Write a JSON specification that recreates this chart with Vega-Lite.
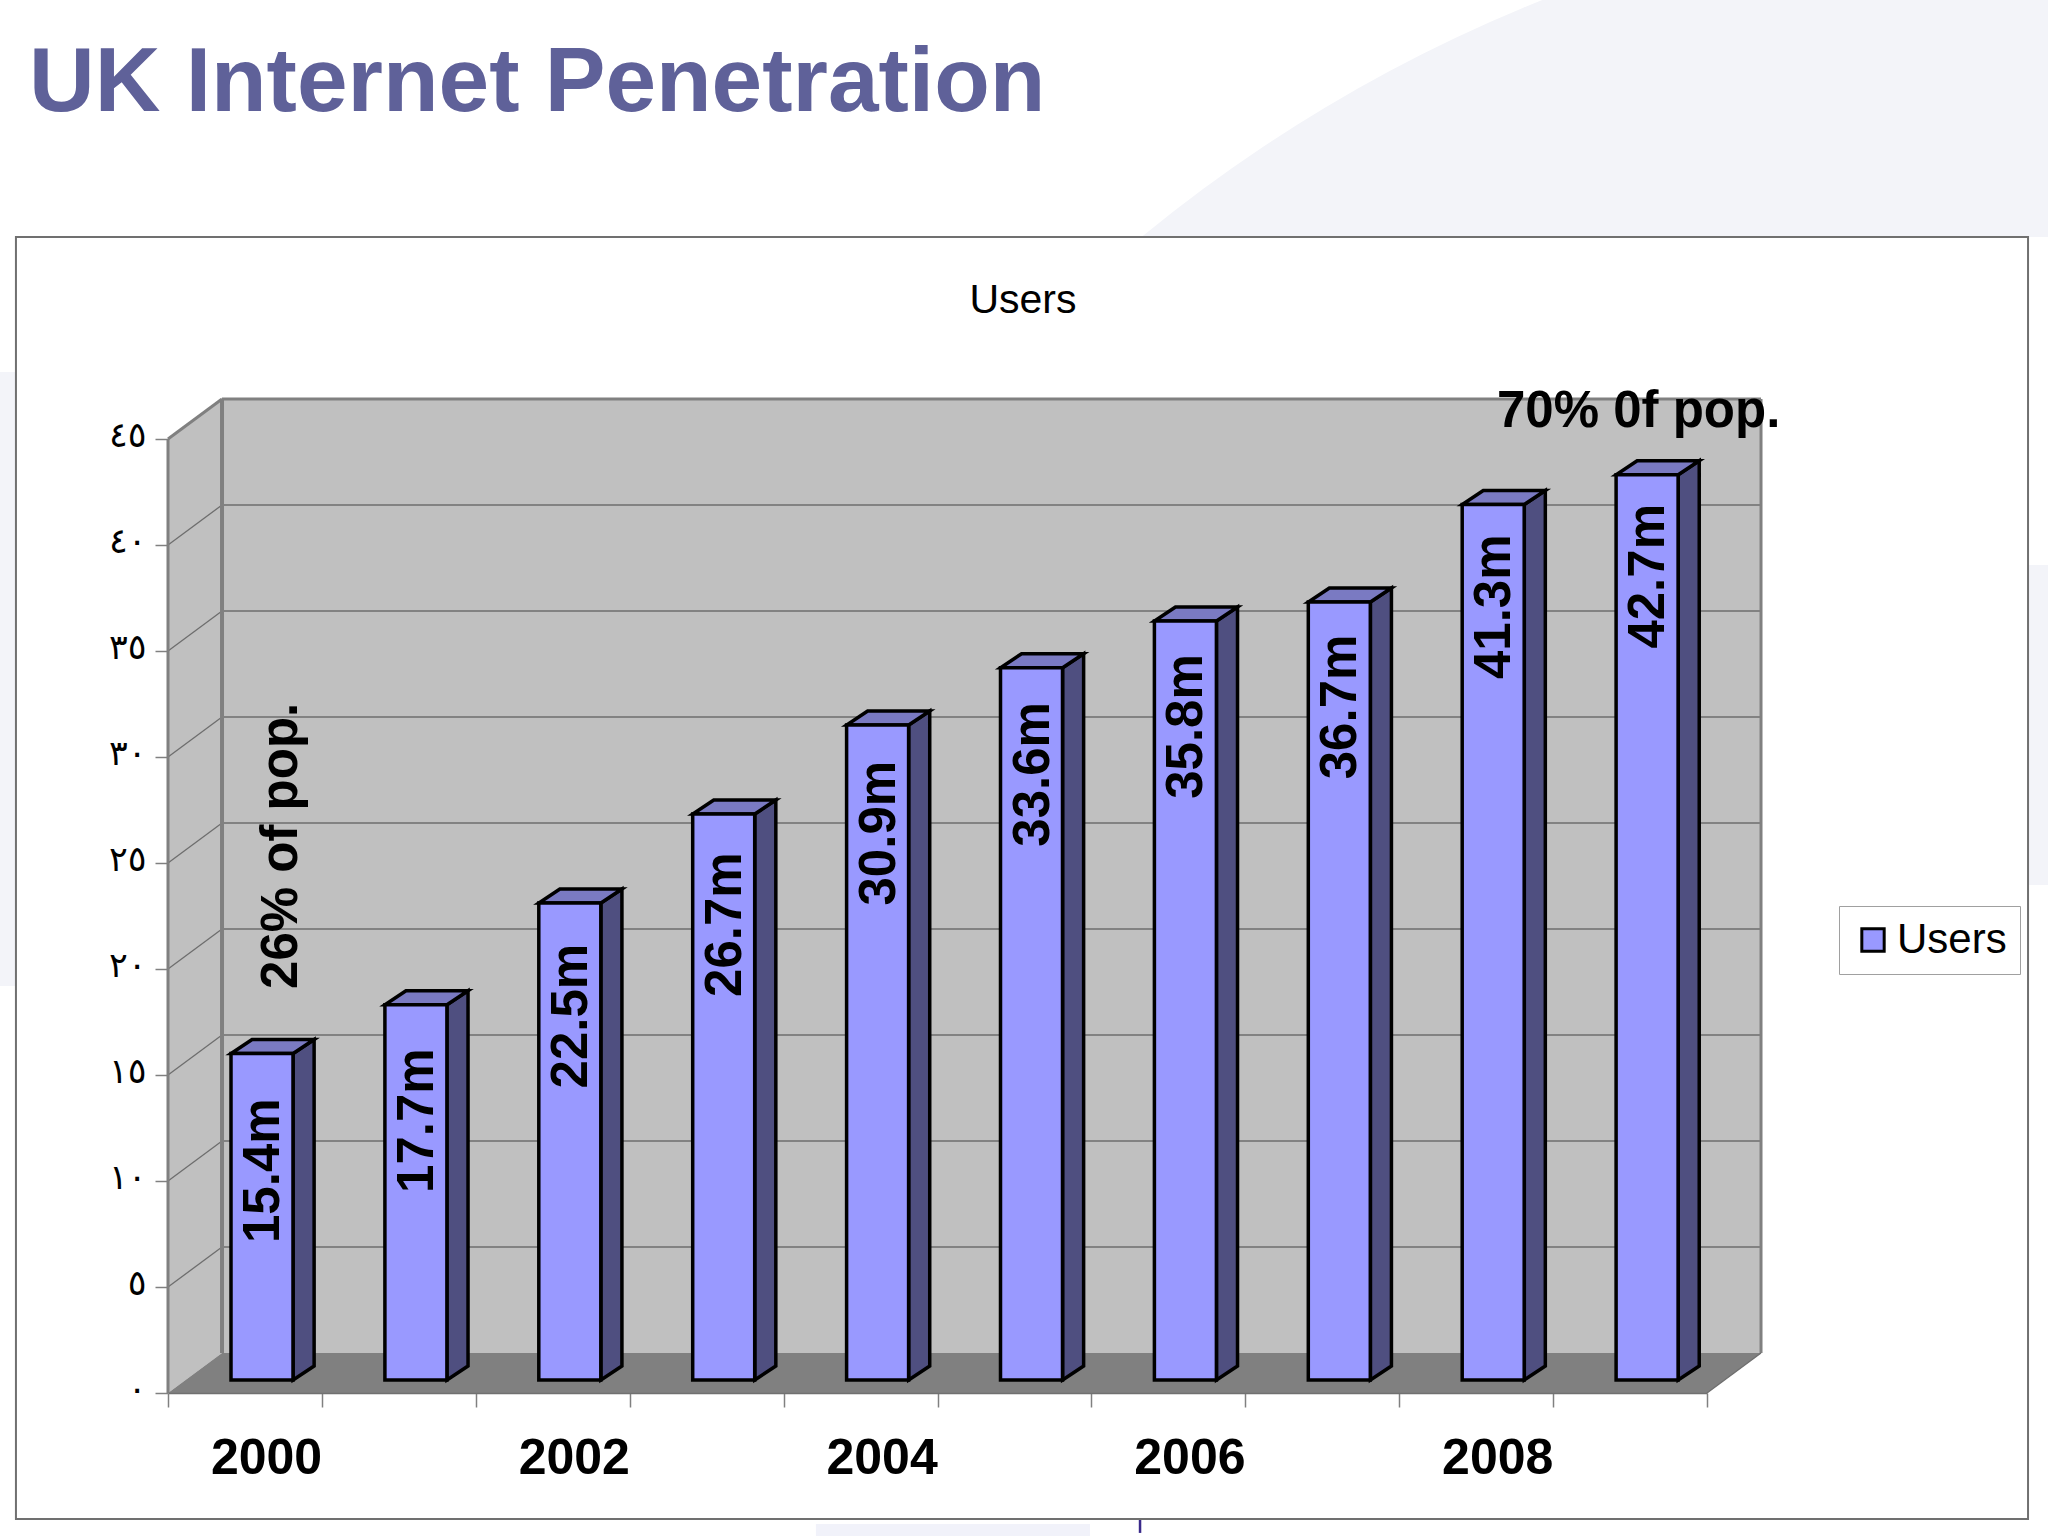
{
  "$schema": "https://vega.github.io/schema/vega-lite/v6.json",
  "background": "white",
  "autosize": {"type": "none"},
  "padding": {"left": 168, "top": 439, "right": 341, "bottom": 143},
  "width": 1539,
  "height": 954,
  "config": {"font": "Liberation Sans", "view": {"stroke": null}},
  "data": {"values": [{}]},
  "layer": [
    {
      "mark": {"type": "point", "filled": true, "size": 9084196, "color": "#f3f4f9", "opacity": 1},
      "encoding": {
        "x": {
          "datum": 2012.554,
          "type": "quantitative",
          "scale": {"domain": [2000, 2010], "nice": false, "zero": false},
          "axis": {
            "values": [2000, 2001, 2002, 2003, 2004, 2005, 2006, 2007, 2008, 2009, 2010],
            "title": null,
            "grid": false,
            "zindex": 1,
            "labelExpr": "datum.value % 2 == 0 && datum.value < 2010 ? format(datum.value, 'd') : ''",
            "labelFontSize": 50,
            "labelFontWeight": "bold",
            "labelColor": "black",
            "labelOffset": 98,
            "labelPadding": 26,
            "labelOverlap": false,
            "labelBound": false,
            "labelFlush": false,
            "tickColor": "#808080",
            "tickSize": 14,
            "tickWidth": 1.5,
            "domainColor": "#707070",
            "domainWidth": 1.5
          }
        },
        "y": {
          "datum": -0.33,
          "type": "quantitative",
          "scale": {"domain": [0, 45], "nice": false, "zero": false},
          "axis": {
            "values": [0, 5, 10, 15, 20, 25, 30, 35, 40, 45],
            "title": null,
            "grid": false,
            "zindex": 1,
            "domain": false,
            "labelExpr": "['٠','٥','١٠','١٥','٢٠','٢٥','٣٠','٣٥','٤٠','٤٥'][datum.value / 5]",
            "labelFont": "DejaVu Sans",
            "labelFontSize": 35,
            "labelColor": "black",
            "labelPadding": 9,
            "labelOffset": -4,
            "tickColor": "#808080",
            "tickSize": 13,
            "tickWidth": 1.5
          }
        }
      }
    },
    {
      "mark": {"type": "rect", "color": "#f3f4f9"},
      "encoding": {
        "x": {"datum": 1998.908, "type": "quantitative"},
        "x2": {"datum": 1999.012},
        "y": {"datum": 48.16, "type": "quantitative"},
        "y2": {"datum": 19.2}
      }
    },
    {
      "mark": {"type": "rect", "color": "white"},
      "encoding": {
        "x": {"datum": 2012.086, "type": "quantitative"},
        "x2": {"datum": 2012.3},
        "y": {"datum": 54.53, "type": "quantitative"},
        "y2": {"datum": 39.06}
      }
    },
    {
      "mark": {"type": "rect", "color": "white"},
      "encoding": {
        "x": {"datum": 2012.086, "type": "quantitative"},
        "x2": {"datum": 2012.3},
        "y": {"datum": 23.96, "type": "quantitative"},
        "y2": {"datum": -6.8}
      }
    },
    {
      "mark": {"type": "rect", "color": "white"},
      "encoding": {
        "x": {"datum": 1998.9, "type": "quantitative"},
        "x2": {"datum": 2012.3},
        "y": {"datum": -5.9, "type": "quantitative"},
        "y2": {"datum": -6.8}
      }
    },
    {
      "mark": {"type": "rect", "color": "#f1f2fa"},
      "encoding": {
        "x": {"datum": 2004.21, "type": "quantitative"},
        "x2": {"datum": 2005.991},
        "y": {"datum": -6.18, "type": "quantitative"},
        "y2": {"datum": -6.8}
      }
    },
    {
      "mark": {"type": "rule", "color": "#3a2a8a", "strokeWidth": 2.5},
      "encoding": {
        "x": {"datum": 2006.316, "type": "quantitative"},
        "y": {"datum": -5.94, "type": "quantitative"},
        "y2": {"datum": -6.6}
      }
    },
    {
      "mark": {"type": "rect", "fill": "white", "stroke": "#707070", "strokeWidth": 2},
      "encoding": {
        "x": {"datum": 1999.012, "type": "quantitative"},
        "x2": {"datum": 2012.086},
        "y": {"datum": 54.53, "type": "quantitative"},
        "y2": {"datum": -5.94}
      }
    },
    {
      "mark": {"type": "text", "text": "UK Internet Penetration", "fontSize": 91, "fontWeight": "bold", "align": "left", "baseline": "alphabetic", "color": "#5f6199"},
      "encoding": {
        "x": {"datum": 1999.097, "type": "quantitative"},
        "y": {"datum": 60.47, "type": "quantitative"}
      }
    },
    {
      "mark": {"type": "text", "text": "Users", "fontSize": 41, "align": "center", "baseline": "alphabetic", "color": "black"},
      "encoding": {
        "x": {"datum": 2005.555, "type": "quantitative"},
        "y": {"datum": 50.95, "type": "quantitative"}
      }
    },
    {
      "mark": {"type": "rect", "color": "#c0c0c0"},
      "encoding": {
        "x": {"datum": 2000.351, "type": "quantitative"},
        "x2": {"datum": 2010.351},
        "y": {"datum": 1.887, "type": "quantitative"},
        "y2": {"datum": 46.887}
      }
    },
    {
      "data": {"values": [{"edge": "near"}, {"edge": "far"}]},
      "transform": [
        {"calculate": "datum.edge == 'near' ? 2000 : 2000.351", "as": "wall_x"},
        {"calculate": "datum.edge == 'near' ? 0 : 1.887", "as": "wall_low"},
        {"calculate": "datum.wall_low + 45", "as": "wall_high"}
      ],
      "mark": {"type": "area", "color": "#c0c0c0", "orient": "vertical", "opacity": 1},
      "encoding": {
        "x": {"field": "wall_x", "type": "quantitative"},
        "y": {"field": "wall_low", "type": "quantitative"},
        "y2": {"field": "wall_high"}
      }
    },
    {
      "data": {"values": [{"edge": "near"}, {"edge": "far"}]},
      "transform": [
        {"calculate": "datum.edge == 'near' ? 0 : 1.887", "as": "floor_y"},
        {"calculate": "datum.edge == 'near' ? 2000 : 2000.351", "as": "floor_left"},
        {"calculate": "datum.floor_left + 10", "as": "floor_right"}
      ],
      "mark": {"type": "area", "color": "#808080", "orient": "horizontal", "opacity": 1},
      "encoding": {
        "y": {"field": "floor_y", "type": "quantitative"},
        "x": {"field": "floor_left", "type": "quantitative"},
        "x2": {"field": "floor_right"}
      }
    },
    {
      "data": {"values": [{"tick": 5}, {"tick": 10}, {"tick": 15}, {"tick": 20}, {"tick": 25}, {"tick": 30}, {"tick": 35}, {"tick": 40}]},
      "layer": [
        {
          "mark": {"type": "rule", "color": "#6e6e6e", "strokeWidth": 1.3, "yOffset": -40, "y2Offset": -40},
          "encoding": {
            "x": {"datum": 2000.351, "type": "quantitative"},
            "x2": {"datum": 2010.351},
            "y": {"field": "tick", "type": "quantitative"},
            "y2": {"field": "tick"}
          }
        },
        {
          "mark": {"type": "rule", "color": "#6e6e6e", "strokeWidth": 1.3, "y2Offset": -40},
          "encoding": {
            "x": {"datum": 2000, "type": "quantitative"},
            "x2": {"datum": 2000.351},
            "y": {"field": "tick", "type": "quantitative"},
            "y2": {"field": "tick"}
          }
        }
      ]
    },
    {
      "mark": {"type": "rule", "color": "#808080", "strokeWidth": 3},
      "encoding": {
        "x": {"datum": 2000, "type": "quantitative"},
        "y": {"datum": 0, "type": "quantitative"},
        "y2": {"datum": 45}
      }
    },
    {
      "mark": {"type": "rule", "color": "#808080", "strokeWidth": 4},
      "encoding": {
        "x": {"datum": 2000.351, "type": "quantitative"},
        "y": {"datum": 1.887, "type": "quantitative"},
        "y2": {"datum": 46.887}
      }
    },
    {
      "mark": {"type": "rule", "color": "#808080", "strokeWidth": 3},
      "encoding": {
        "x": {"datum": 2010.351, "type": "quantitative"},
        "y": {"datum": 1.887, "type": "quantitative"},
        "y2": {"datum": 46.887}
      }
    },
    {
      "mark": {"type": "rule", "color": "#808080", "strokeWidth": 3},
      "encoding": {
        "x": {"datum": 2000.351, "type": "quantitative"},
        "x2": {"datum": 2010.351},
        "y": {"datum": 46.887, "type": "quantitative"}
      }
    },
    {
      "mark": {"type": "rule", "color": "#808080", "strokeWidth": 3},
      "encoding": {
        "x": {"datum": 2000, "type": "quantitative"},
        "x2": {"datum": 2000.351},
        "y": {"datum": 45, "type": "quantitative"},
        "y2": {"datum": 46.887}
      }
    },
    {
      "mark": {"type": "rule", "color": "#6e6e6e", "strokeWidth": 1.3},
      "encoding": {
        "x": {"datum": 2010, "type": "quantitative"},
        "x2": {"datum": 2010.351},
        "y": {"datum": 0, "type": "quantitative"},
        "y2": {"datum": 1.887}
      }
    },
    {
      "data": {
        "values": [
          {"year": 2000, "users": 15.4, "label": "15.4m"},
          {"year": 2001, "users": 17.7, "label": "17.7m"},
          {"year": 2002, "users": 22.5, "label": "22.5m"},
          {"year": 2003, "users": 26.7, "label": "26.7m"},
          {"year": 2004, "users": 30.9, "label": "30.9m"},
          {"year": 2005, "users": 33.6, "label": "33.6m"},
          {"year": 2006, "users": 35.8, "label": "35.8m"},
          {"year": 2007, "users": 36.7, "label": "36.7m"},
          {"year": 2008, "users": 41.3, "label": "41.3m"},
          {"year": 2009, "users": 42.7, "label": "42.7m"}
        ]
      },
      "layer": [
        {
          "transform": [
            {"fold": ["near", "far"], "as": ["edge", "unused"]},
            {"calculate": "datum.year + (datum.edge == 'near' ? 0.813 : 0.9495)", "as": "side_x"},
            {"calculate": "datum.users + (datum.edge == 'near' ? 0.613 : 1.273)", "as": "side_top"},
            {"calculate": "datum.edge == 'near' ? 0.613 : 1.273", "as": "side_bottom"}
          ],
          "mark": {"type": "area", "orient": "vertical", "color": "#4f4f80", "opacity": 1, "stroke": "black", "strokeWidth": 3.5, "strokeJoin": "miter"},
          "encoding": {
            "x": {"field": "side_x", "type": "quantitative"},
            "y": {"field": "side_top", "type": "quantitative"},
            "y2": {"field": "side_bottom"},
            "detail": {"field": "year"}
          }
        },
        {
          "transform": [
            {"fold": ["near", "far"], "as": ["edge", "unused"]},
            {"calculate": "datum.users + (datum.edge == 'near' ? 0.613 : 1.273)", "as": "top_y"},
            {"calculate": "datum.year + (datum.edge == 'near' ? 0.41 : 0.5465)", "as": "top_left"},
            {"calculate": "datum.top_left + 0.403", "as": "top_right"}
          ],
          "mark": {"type": "area", "orient": "horizontal", "color": "#7a7ac2", "opacity": 1, "stroke": "black", "strokeWidth": 3.5, "strokeJoin": "miter"},
          "encoding": {
            "y": {"field": "top_y", "type": "quantitative"},
            "x": {"field": "top_left", "type": "quantitative"},
            "x2": {"field": "top_right"},
            "detail": {"field": "year"}
          }
        },
        {
          "mark": {"type": "rect", "stroke": "black", "strokeWidth": 3.5, "opacity": 1, "xOffset": 63, "x2Offset": 125, "yOffset": -13, "y2Offset": -13},
          "encoding": {
            "x": {"field": "year", "type": "quantitative"},
            "x2": {"field": "year"},
            "y": {"field": "users", "type": "quantitative"},
            "y2": {"datum": 0},
            "color": {
              "datum": "Users",
              "scale": {"domain": ["Users"], "range": ["#9999ff"]},
              "legend": {
                "title": null,
                "orient": "none",
                "legendX": 1671,
                "legendY": 467,
                "fillColor": "white",
                "strokeColor": "#a0a0a0",
                "padding": 13,
                "symbolType": "square",
                "symbolSize": 500,
                "symbolStrokeColor": "black",
                "symbolStrokeWidth": 3,
                "symbolOpacity": 1,
                "labelFontSize": 42,
                "labelColor": "black",
                "labelOffset": 3
              }
            }
          }
        },
        {
          "transform": [{"calculate": "datum.users * 1.027 - 8.74", "as": "label_y"}],
          "mark": {"type": "text", "angle": 270, "align": "left", "baseline": "alphabetic", "fontSize": 51, "fontWeight": "bold", "color": "black", "xOffset": 111},
          "encoding": {
            "x": {"field": "year", "type": "quantitative"},
            "y": {"field": "label_y", "type": "quantitative"},
            "text": {"field": "label"}
          }
        }
      ]
    },
    {
      "mark": {"type": "text", "text": "70% 0f pop.", "align": "left", "baseline": "alphabetic", "fontSize": 51, "fontWeight": "bold", "color": "black"},
      "encoding": {
        "x": {"datum": 2008.635, "type": "quantitative"},
        "y": {"datum": 45.566, "type": "quantitative"}
      }
    },
    {
      "mark": {"type": "text", "text": "26% of pop.", "angle": 270, "align": "left", "baseline": "alphabetic", "fontSize": 51, "fontWeight": "bold", "color": "black"},
      "encoding": {
        "x": {"datum": 2000.838, "type": "quantitative"},
        "y": {"datum": 19.06, "type": "quantitative"}
      }
    }
  ]
}
